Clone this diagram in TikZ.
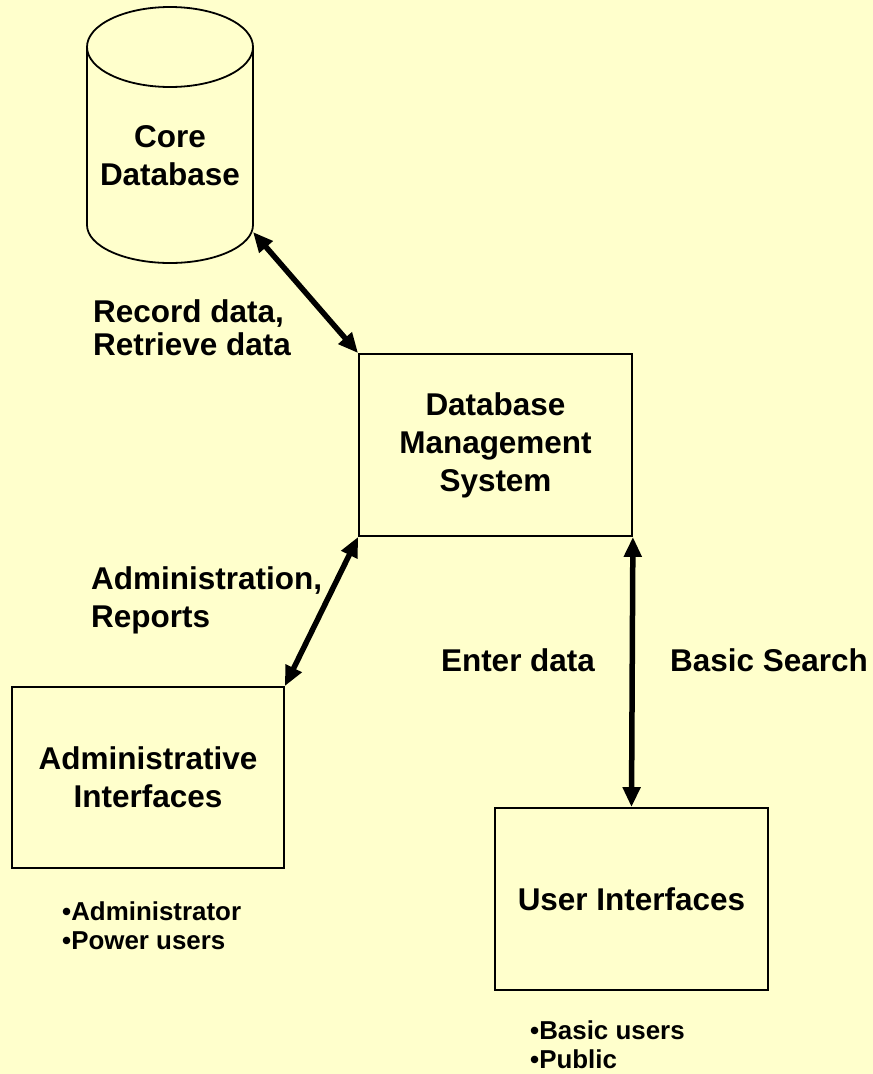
\documentclass[tikz,border=0pt]{standalone}
\usepackage{fontspec}
\setmainfont{Liberation Sans}
\usetikzlibrary{arrows.meta}
\definecolor{paper}{HTML}{FFFFCC}
\begin{document}
\begin{tikzpicture}[x=1bp,y=-1bp,>={Triangle[length=20bp,width=17bp]},
    box/.style={draw,line width=1.8bp,minimum width=273bp,minimum height=182bp,inner sep=0pt,align=center,font=\bfseries\fontsize{31.6}{38}\selectfont},
    lbl/.style={inner sep=0pt,align=left,font=\bfseries\fontsize{31.6}{38}\selectfont},
    note/.style={inner sep=0pt,align=left,font=\bfseries\fontsize{26}{29.5}\selectfont},
    link/.style={<->,line width=5.5bp}]
\fill[paper](0,0)rectangle(873,1074);
% core database drum
\draw[line width=1.8bp](87,47)--(87,225)arc[start angle=180,end angle=0,x radius=83,y radius=38]--(253,47);
\draw[line width=1.8bp](170,47)ellipse[x radius=83,y radius=40];
\node(core)at(170,156)[lbl,align=center]{Core\\Database};
\coordinate(drum)at(253,232);
\node(dbms)at(495.5,445)[box]{Database\\Management\\System};
\node(admin)at(148,777.5)[box,minimum width=272bp,minimum height=181bp]{Administrative\\Interfaces};
\node(user)at(631.5,899)[box]{User Interfaces};
% connectors
\draw[link](drum)--(dbms.north west);
\draw[link](admin.north east)--(dbms.south west);
\draw[link](dbms.south east)--(user.north);
\node(rec)at(93,328)[lbl,anchor=west,font=\bfseries\fontsize{31.6}{33}\selectfont]{Record data,\\Retrieve data};
\node(adm)at(91,600)[lbl,anchor=west]{Administration,\\Reports};
\node(enter)at(518,660)[lbl]{Enter data};
\node(search)at(769,660)[lbl]{Basic Search};
\node(adminusers)at(62,925.5)[note,anchor=west]{•Administrator\\•Power users};
\node(userusers)at(530,1045)[note,anchor=west]{•Basic users\\•Public};
\end{tikzpicture}
\end{document}
